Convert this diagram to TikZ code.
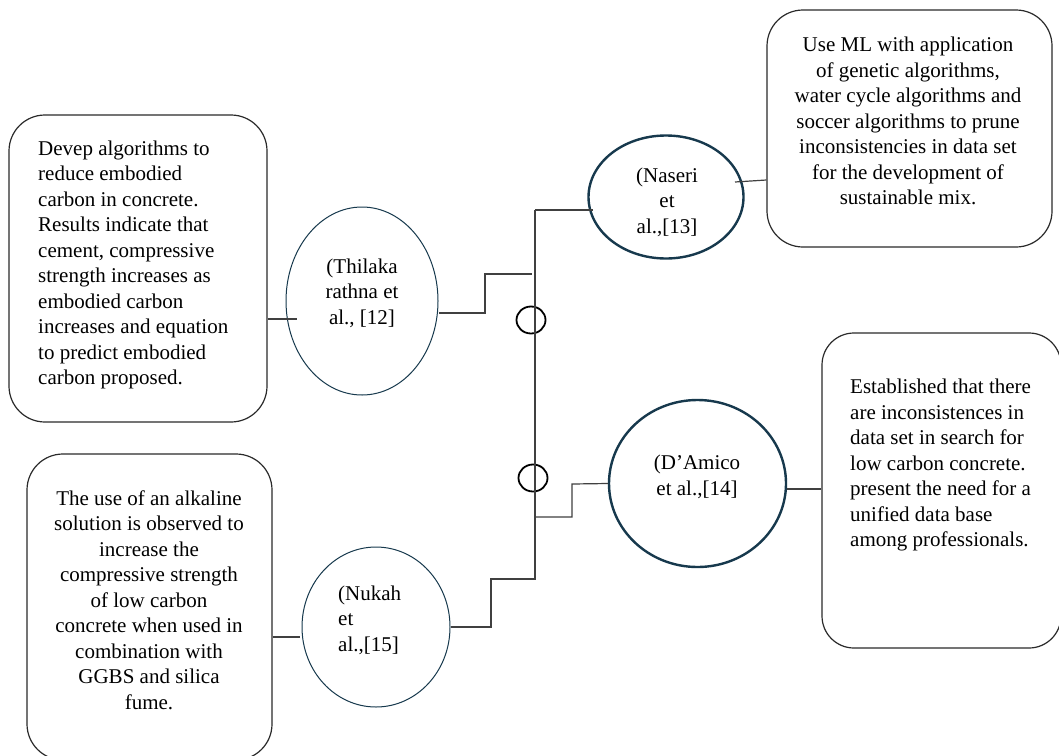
\documentclass[tikz,border=0pt]{standalone}
\usepackage{fontspec}
\setmainfont{Liberation Serif}
\usetikzlibrary{shapes.geometric}
\definecolor{navy}{HTML}{17394D}
\definecolor{wirec}{HTML}{404040}
\definecolor{boxc}{HTML}{2A2A2A}
\begin{document}
\begin{tikzpicture}[x=1pt,y=-1pt,
  font=\fontsize{21}{25.5}\selectfont,
  box/.style={draw=boxc, line width=1.2pt, rounded corners=36pt, inner sep=0pt},
  ovthin/.style={ellipse, draw=navy, line width=1pt, inner sep=0pt},
  ovthick/.style={ellipse, draw=navy, line width=2.4pt, inner sep=0pt},
  ring/.style={ellipse, draw=black, line width=1.8pt, inner sep=0pt, minimum width=29pt, minimum height=27pt},
  wire/.style={draw=wirec, line width=1.2pt},
  txt/.style={inner sep=0pt}]
\useasboundingbox (0,0) rectangle (1059,755);
\fill[white] (0,0) rectangle (1059,755);

% boxes
\node[box, minimum width=258pt, minimum height=307pt] (box1) at (138,268.5) {};
\node[box, minimum width=245pt, minimum height=306pt] (box2) at (149.5,607) {};
\node[box, minimum width=285pt, minimum height=237pt] (box3) at (909.5,128.5) {};
\node[box, rounded corners=32pt, minimum width=239pt, minimum height=315pt] (box4) at (941.5,490.5) {};

% ellipses
\node[ovthin, minimum width=152pt, minimum height=188pt] (thi) at (362,301) {};
\node[ovthick, minimum width=155pt, minimum height=123pt] (nas) at (666,197) {};
\node[ovthick, minimum width=177pt, minimum height=167pt] (dam) at (697.5,483.5) {};
\node[ovthin, minimum width=148pt, minimum height=160pt] (nuk) at (376,627) {};

% small rings
\node[ring] (c1) at (531,320) {};
\node[ring] (c2) at (533,478) {};

% texts
\node[txt, align=left, anchor=west] (t1) at (38,265) {Devep algorithms to\\reduce embodied\\carbon in concrete.\\Results indicate that\\cement, compressive\\strength increases as\\embodied carbon\\increases and equation\\to predict embodied\\carbon proposed.};
\node[txt, align=center] (t2) at (149,600) {The use of an alkaline\\solution is observed to\\increase the\\compressive strength\\of low carbon\\concrete when used in\\combination with\\GGBS and silica\\fume.};
\node[txt, align=center] (t3) at (908,121) {Use ML with application\\of genetic algorithms,\\water cycle algorithms and\\soccer algorithms to prune\\inconsistencies in data set\\for the development of\\sustainable mix.};
\node[txt, align=left, anchor=west] (t4) at (850,465) {Established that there\\are inconsistences in\\data set in search for\\low carbon concrete.\\present the need for a\\unified data base\\among professionals.};
\node[txt, align=center] (thiT) at (362,293) {(Thilaka\\rathna et\\al., [12]};
\node[txt, align=center] (nasT) at (667,202) {(Naseri\\et\\al.,[13]};
\node[txt, align=center] (damT) at (697,477) {(D’Amico\\et al.,[14]};
\node[txt, align=left, anchor=west] (nukT) at (338,620) {(Nukah\\et\\al.,[15]};

% connectors
\coordinate (tTop) at (535,210);
\coordinate (tBot) at (535,580);
\coordinate (j1) at (297,319);
\coordinate (j2) at (300,637);
\coordinate (n3) at (735,182);
\coordinate (thiEnd) at (532,274);
\coordinate (damStart) at (535,517);
\coordinate (nukStart) at (535,579);

\draw[wire] (tTop) -- (tBot);
\draw[wire] (box1.east |- j1) -- (j1);
\draw[wire] (thi.east |- 0,313) -| (485,274) -- (thiEnd);
\draw[wire] (tTop) -- ([xshift=6pt]tTop -| nas.west);
\draw[wire] (n3) -- (box3.west |- 0,180);
\draw[wire] (damStart) -| (572,484) -- (dam.west);
\draw[wire] (dam.east |- 0,489) -- (box4.west |- 0,489);
\draw[wire] (nukStart) -| (491,627) -- (nuk.east);
\draw[wire] (box2.east |- j2) -- (j2);
\end{tikzpicture}
\end{document}
